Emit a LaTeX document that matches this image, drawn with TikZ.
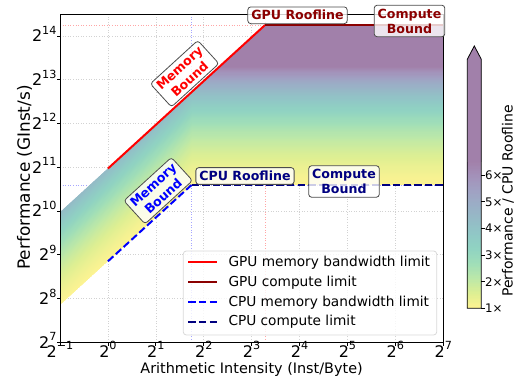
\documentclass[tikz,border=0pt]{standalone}
\usepackage{fontspec}
\setmainfont{DejaVu Sans}
\usetikzlibrary{positioning}
\definecolor{vir0}{HTML}{FDE725}
\definecolor{vir1}{HTML}{BDDF26}
\definecolor{vir2}{HTML}{7AD151}
\definecolor{vir3}{HTML}{42BE71}
\definecolor{vir4}{HTML}{22A884}
\definecolor{vir5}{HTML}{21918C}
\definecolor{vir6}{HTML}{2A788E}
\definecolor{vir7}{HTML}{355F8D}
\definecolor{vir8}{HTML}{414487}
\definecolor{vir9}{HTML}{482475}
\definecolor{vir10}{HTML}{440154}
\definecolor{gpudark}{HTML}{8B0000}
\definecolor{cpudark}{HTML}{000080}
\newcommand{\twopow}[1]{2\raisebox{7.3pt}{\fontsize{11.2}{11.2}\selectfont #1}}
\newcommand{\setband}[1]{%
  \pgfmathsetmacro\bandv{min(max(#1,0),1)}%
  \pgfmathtruncatemacro\bandk{min(9,floor(10*\bandv))}%
  \pgfmathtruncatemacro\bandkk{\bandk+1}%
  \pgfmathtruncatemacro\bandf{round(100*(10*\bandv-\bandk))}%
  \colorlet{band}{vir\bandkk!\bandf!vir\bandk}}

\begin{document}
\begin{tikzpicture}[x=1pt, y=1pt,
  griddot/.style={gray!35, dotted, line width=0.6pt},
  ridgedot/.style={dotted, line width=0.6pt},
  gpumem/.style={red, line width=2pt},
  gpucomp/.style={gpudark, line width=2pt},
  cpumem/.style={blue, line width=2pt, dash pattern=on 7.4pt off 3.2pt},
  cpucomp/.style={cpudark, line width=2pt, dash pattern=on 7.4pt off 3.2pt},
  bound/.style={draw=black!70, line width=0.8pt, rounded corners=3pt, fill=white, fill opacity=0.8, text opacity=1,
    font=\fontsize{12.6}{15}\selectfont\bfseries, align=center, inner xsep=3.5pt, inner ysep=3.5pt},
  ticklab/.style={font=\fontsize{16}{16}\selectfont, inner sep=0pt},
  legtext/.style={font=\fontsize{13.7}{15}\selectfont, anchor=west, inner sep=0pt},
  cbtick/.style={font=\fontsize{11.8}{14}\selectfont, anchor=west, inner sep=0pt}]
\useasboundingbox (0,0) rectangle (520,379);

\begin{scope}[shift={(107.91pt,-269.62pt)}, x=47.91pt, y=43.76pt]
\foreach \xx in {0,...,6} \draw[griddot] (\xx,7) -- (\xx,14.5);
\foreach \yy in {8,...,14} \draw[griddot] (-1,\yy) -- (7,\yy);
\draw[ridgedot, red!35] (3.28,7) -- (3.28,14.5);
\draw[ridgedot, red!35] (-1,14.25) -- (7,14.25);
\draw[ridgedot, blue!35] (1.745,7) -- (1.745,14.5);
\draw[ridgedot, blue!35] (-1,10.595) -- (7,10.595);

\begin{scope}
\clip (-1,7.85) -- (1.745,10.595) -- (7,10.595) -- (7,14.25) -- (3.28,14.25) -- (-1,9.97) -- cycle;
\foreach \i in {0,...,85} {
  \pgfmathsetmacro\lev{0.025*\i}
  \setband{(2^(\lev+0.0125)-1)/5.5}
  \fill[band!50!white] (-1.1,7.75+\lev) -- (2.2,11.05+\lev) -- (2.2,11.11+\lev) -- (-1.1,7.81+\lev) -- cycle;
}
\foreach \i in {0,...,147} {
  \pgfmathsetmacro\lev{0.025*\i}
  \setband{(2^(\lev+0.0125)-1)/5.5}
  \fill[band!50!white] (1.745,10.595+\lev) rectangle (7,10.64+\lev);
}
\end{scope}

\coordinate (gpulo) at (0,10.97);
\coordinate (gpuknee) at (3.28,14.25);
\coordinate (gpuhi) at (7,14.25);
\coordinate (cpulo) at (0,8.85);
\coordinate (cpuknee) at (1.745,10.595);
\coordinate (cpuhi) at (7,10.595);
\draw[gpumem] (gpulo) -- (gpuknee);
\draw[gpucomp] (gpuknee) -- (gpuhi);
\draw[cpumem] (cpulo) -- (cpuknee);
\draw[cpucomp] (cpuknee) -- (cpuhi);

\draw[line width=0.9pt] (-1,7) rectangle (7,14.5);
\foreach \xx/\lab in {-1/−1,0/0,1/1,2/2,3/3,4/4,5/5,6/6,7/7} {
  \draw[line width=0.8pt] (\xx,7) -- ([yshift=-3.5pt]\xx,7);
  \node[ticklab, anchor=base] (xt\xx) at ([yshift=-15pt]\xx,7) {\twopow{\lab}};
}
\foreach \yy in {7,...,14} {
  \draw[line width=0.8pt] (-1,\yy) -- ([xshift=-3.5pt]-1,\yy);
  \node[ticklab, anchor=base east] (yt\yy) at ([xshift=-3.3pt, yshift=-5.8pt]-1,\yy) {\twopow{\yy}};
}
\end{scope}

\node[font=\fontsize{14.4}{16}\selectfont] (xlabel) at (251.6,9.7) {Arithmetic Intensity (Inst/Byte)};
\node[font=\fontsize{16.9}{18}\selectfont, rotate=90] (ylabel) at (24.5,201.5) {Performance (GInst/s)};

\node[bound, text=gpudark] (gpuroof) at (297.5,363.7) {GPU Roofline};
\node[bound, text=gpudark] (gpucompute) at (409.5,358) {Compute\\Bound};
\node[bound, text=red, rotate=42.4] (gpumembound) at (184.6,305.3) {Memory\\Bound};
\node[bound, text=blue, rotate=42.4] (cpumembound) at (158.2,188.3) {Memory\\Bound};
\node[bound, text=cpudark] (cpuroof) at (245,203) {CPU Roofline};
\node[bound, text=cpudark] (cpucompute) at (344,197.5) {Compute\\Bound};

\draw[black!15, line width=0.8pt, rounded corners=3pt, fill=white, fill opacity=0.8] (183.3,44) rectangle (436.7,128);
\draw[gpumem] (188.3,116.7) -- ++(29,0);
\node[legtext] (leg1) at (228.3,116.7) {GPU memory bandwidth limit};
\draw[gpucomp] (188.3,96.7) -- ++(29,0);
\node[legtext] (leg2) at (228.3,96.7) {GPU compute limit};
\draw[cpumem] (188.3,76.7) -- ++(29,0);
\node[legtext] (leg3) at (228.3,76.7) {CPU memory bandwidth limit};
\draw[cpucomp] (188.3,57.3) -- ++(29,0);
\node[legtext] (leg4) at (228.3,57.3) {CPU compute limit};

\foreach \i in {0,...,109} {
  \setband{(0.05*\i+0.025)/5.5}
  \fill[band!50!white] (467.3,70.7+1.33*\i) rectangle (481.3,72.2+1.33*\i);
}
\fill[vir10!50!white] (467.3,217) -- (467.3,319.7) -- (474.3,333) -- (481.3,319.7) -- (481.3,217) -- cycle;
\draw[line width=0.8pt] (467.3,70.7) -- (467.3,319.7) -- (474.3,333) -- (481.3,319.7) -- (481.3,70.7) -- cycle;
\foreach \k in {1,...,6} {
  \draw[line width=0.8pt] (481.3,70.7+26.6*\k-26.6) -- ++(3.5,0);
  \node[cbtick] (cb\k) at (485,70.7+26.6*\k-26.6) {\k×};
}
\node[font=\fontsize{14}{16}\selectfont, rotate=90] (cblabel) at (508,178) {Performance / CPU Roofline};
\end{tikzpicture}
\end{document}
